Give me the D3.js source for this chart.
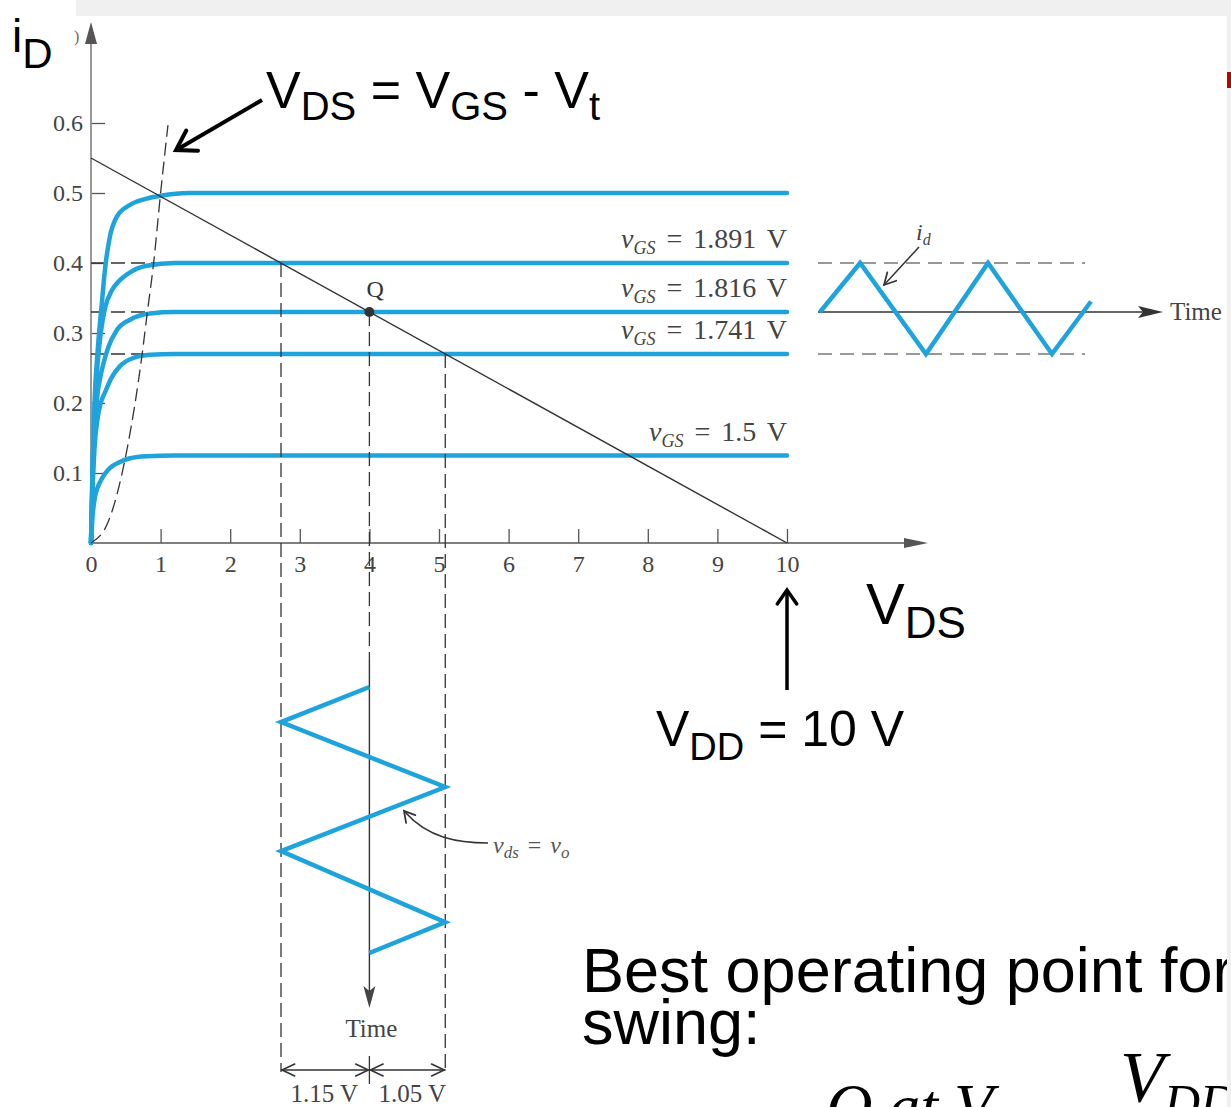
<!DOCTYPE html>
<html><head><meta charset="utf-8">
<script src="https://cdn.jsdelivr.net/npm/d3@7"></script>
<style>body{margin:0;background:#fff;} svg{display:block} text{white-space:pre}</style>
</head><body>
<svg id="c" width="1231" height="1107"></svg>
<script>
// ---------------- data ----------------
const xTicks = [0,1,2,3,4,5,6,7,8,9,10];
const yTicks = [0.1,0.2,0.3,0.4,0.5,0.6];
const satLevels = [0.5,0.4,0.33,0.27,0.125];
const vgsLabels = [null,"1.891","1.816","1.741","1.5"];
const curve050 = [[0,0],[0.02,0.1],[0.05,0.2],[0.1,0.28],[0.16,0.347],[0.2,0.39],[0.27,0.437],[0.37,0.466],[0.56,0.483],[0.8,0.492],[1.0,0.496],[1.4,0.5],[10,0.5]];
const curve040 = [[0,0],[0.02,0.09],[0.05,0.18],[0.09,0.25],[0.14,0.3],[0.2,0.335],[0.3,0.361],[0.4,0.374],[0.55,0.386],[0.8,0.396],[1.2,0.4],[10,0.4]];
const curve033 = [[0,0],[0.02,0.08],[0.05,0.16],[0.09,0.21],[0.14,0.24],[0.18,0.257],[0.25,0.28],[0.37,0.304],[0.56,0.319],[0.85,0.328],[1.2,0.33],[10,0.33]];
const curve027 = [[0,0],[0.02,0.07],[0.05,0.135],[0.09,0.175],[0.14,0.2],[0.2,0.215],[0.3,0.237],[0.42,0.253],[0.6,0.264],[0.85,0.269],[1.2,0.27],[10,0.27]];
const curve0125 = [[0,0],[0.02,0.035],[0.057,0.066],[0.09,0.078],[0.13,0.087],[0.2,0.099],[0.27,0.107],[0.4,0.115],[0.56,0.121],[0.8,0.124],[1.2,0.125],[10,0.125]];
const boundary = [[0,0],[0.25,0.031],[0.52,0.135],[0.735,0.27],[0.81,0.33],[0.9,0.4],[1.0,0.5],[1.106,0.597]];
const loadLine = [[0,0.55],[10,0]];
const qPoint = [4,0.33];
const swingI = [0.4,0.33,0.27];
const swingV = [2.73,4,5.09];
const vdsWaveT = [0,0.132,0.376,0.617,0.884,1.0];
const vdsWaveV = [4,2.73,5.09,2.73,5.09,4];
const idWaveT = [0,0.148,0.391,0.620,0.856,1.0];
const idWaveI = [0.33,0.4,0.27,0.4,0.27,0.345];
const swingLabels = ["1.15 V","1.05 V"];

// ---------------- setup ----------------
const svg = d3.select("#c");
const BLUE = "#1fa3dd", INK = "#333", SERIF = "Liberation Serif", SANS = "Liberation Sans";
const x = d3.scaleLinear().domain([0,10]).range([91,787]);
const y = d3.scaleLinear().domain([0,0.6]).range([543,123]);
const tV = d3.scaleLinear().domain([0,1]).range([687,953]);   // time (down) for v_ds
const tI = d3.scaleLinear().domain([0,1]).range([820,1091]);  // time (right) for i_d

function chevron(g, tx, ty, fx, fy, len, ang, color, w){
  const dx = fx-tx, dy = fy-ty, L = Math.hypot(dx,dy), ux = dx/L, uy = dy/L;
  const a = ang*Math.PI/180;
  const r = (c,s)=>[tx + len*(ux*c - uy*s), ty + len*(uy*c + ux*s)];
  const p1 = r(Math.cos(a),Math.sin(a)), p2 = r(Math.cos(-a),Math.sin(-a));
  g.append("path").attr("d",`M${p1[0]},${p1[1]}L${tx},${ty}L${p2[0]},${p2[1]}`)
    .attr("fill","none").attr("stroke",color).attr("stroke-width",w).attr("stroke-linejoin","miter").attr("stroke-linecap","round");
}
function rich(g, px, py, parts, attrs){
  const t = g.append("text").attr("x",px).attr("y",py);
  Object.entries(attrs).forEach(([k,v])=>t.attr(k,v));
  let cur = 0;
  parts.forEach(p=>{
    const ts = t.append("tspan").text(p.t);
    const shift = (p.sub||0) - cur;
    if (shift) ts.attr("dy", shift);
    cur = p.sub||0;
    if (p.size) ts.attr("font-size", p.size);
    if (p.italic) ts.attr("font-style","italic");
  });
  return t;
}

const g = svg.append("g");

// axes (ticks inward)
const yAxis = g.append("g").attr("transform",`translate(${x(0)},0)`)
  .call(d3.axisLeft(y).tickValues(yTicks).tickSize(-14).tickPadding(8).tickFormat(d3.format(".1f")));
const xAxis = g.append("g").attr("transform",`translate(0,${y(0)})`)
  .call(d3.axisBottom(x).tickValues(xTicks).tickSize(-14).tickPadding(12).tickFormat(d3.format("d")));
[yAxis,xAxis].forEach(a=>{
  a.select(".domain").remove();
  a.selectAll(".tick line").attr("stroke","#555").attr("stroke-width",1.3);
  a.selectAll(".tick text").attr("font-family",SERIF).attr("font-size",24).attr("fill","#444");
});
xAxis.selectAll(".tick").filter(d=>d===0).select("line").remove();
// axis lines with arrowheads
g.append("line").attr("x1",x(0)).attr("x2",x(0)).attr("y1",y(0)).attr("y2",40).attr("stroke","#999").attr("stroke-width",2);
g.append("path").attr("d",`M${x(0)},22L${x(0)-6},44L${x(0)+6},44Z`).attr("fill","#555");
g.append("line").attr("x1",x(0)).attr("x2",910).attr("y1",y(0)).attr("y2",y(0)).attr("stroke","#555").attr("stroke-width",1.5);
g.append("path").attr("d",`M928,${y(0)}L904,${y(0)-5}L904,${y(0)+5}Z`).attr("fill","#555");

const dash = "14,6";
// horizontal dashed guides at swing levels (under the curves)
swingI.forEach((iv,k)=>{
  g.append("line").attr("x1",x(0)).attr("x2",x(swingV[k])).attr("y1",y(iv)).attr("y2",y(iv))
    .attr("stroke",INK).attr("stroke-width",1.3).attr("stroke-dasharray",dash);
});

// characteristic curves
const line = d3.line().x(d=>x(d[0])).y(d=>y(d[1])).curve(d3.curveMonotoneX);
[curve050,curve040,curve033,curve027,curve0125].forEach(c=>{
  g.append("path").attr("d",line(c)).attr("fill","none").attr("stroke",BLUE).attr("stroke-width",4.5).attr("stroke-linecap","round");
});

// v_GS labels
satLevels.forEach((s,k)=>{
  if(!vgsLabels[k]) return;
  rich(g, x(10), y(s)-15, [
    {t:"v",italic:true},{t:"GS",italic:true,size:18,sub:6},{t:" = "+vgsLabels[k]+" V",sub:0}
  ], {"font-family":SERIF,"font-size":28,"fill":"#444","text-anchor":"end","word-spacing":4});
});

// boundary dashed curve v_DS = v_GS - V_t
g.append("path").attr("d",line(boundary)).attr("fill","none").attr("stroke",INK).attr("stroke-width",1.3).attr("stroke-dasharray","13,6");

// load line
g.append("path").attr("d",d3.line().x(d=>x(d[0])).y(d=>y(d[1]))(loadLine)).attr("stroke",INK).attr("stroke-width",1.4).attr("fill","none");

// vertical dashed projection lines
[[swingV[0],swingI[0]],[swingV[2],swingI[2]]].forEach(([v,i])=>{
  g.append("line").attr("x1",x(v)).attr("x2",x(v)).attr("y1",y(i)).attr("y2",1072)
    .attr("stroke",INK).attr("stroke-width",1.3).attr("stroke-dasharray",dash);
});
g.append("line").attr("x1",x(qPoint[0])).attr("x2",x(qPoint[0])).attr("y1",y(qPoint[1])).attr("y2",660)
  .attr("stroke",INK).attr("stroke-width",1.3).attr("stroke-dasharray",dash);
// time axis (down)
g.append("line").attr("x1",x(qPoint[0])).attr("x2",x(qPoint[0])).attr("y1",660).attr("y2",992).attr("stroke",INK).attr("stroke-width",1.4);
g.append("path").attr("d",`M${x(4)},1008L${x(4)-6},986L${x(4)},991L${x(4)+6},986Z`).attr("fill","#444");
g.append("text").attr("x",x(4)+2).attr("y",1037).attr("text-anchor","middle").attr("font-family",SERIF).attr("font-size",25).attr("fill","#444").text("Time");

// Q point
g.append("circle").attr("cx",x(qPoint[0])).attr("cy",y(qPoint[1])).attr("r",5).attr("fill","#333");
g.append("text").attr("x",x(qPoint[0])-3).attr("y",y(qPoint[1])-15).attr("font-family",SERIF).attr("font-size",24).attr("fill","#333").text("Q");

// v_ds waveform
const vWave = vdsWaveT.map((t,k)=>[x(vdsWaveV[k]), tV(t)]);
g.append("path").attr("d",d3.line()(vWave)).attr("fill","none").attr("stroke",BLUE).attr("stroke-width",4.5).attr("stroke-linejoin","miter");

// v_ds = v_o label + curved arrow
rich(g, 493, 853, [
  {t:"v",italic:true},{t:"ds",italic:true,size:17,sub:5},{t:" = ",sub:0},{t:"v",italic:true},{t:"o",italic:true,size:17,sub:5}
], {"font-family":SERIF,"font-size":24,"fill":"#555","word-spacing":3});
g.append("path").attr("d","M488,843C458,843,428,838,405,812").attr("fill","none").attr("stroke",INK).attr("stroke-width",1.6);
chevron(g,404,811,420,830,12,30,INK,1.8);

// swing dimension arrows
const dimY = 1070;
g.append("line").attr("x1",x(swingV[0])).attr("x2",x(4)-1).attr("y1",dimY).attr("y2",dimY).attr("stroke",INK).attr("stroke-width",1.4);
g.append("line").attr("x1",x(4)+1).attr("x2",x(swingV[2])).attr("y1",dimY).attr("y2",dimY).attr("stroke",INK).attr("stroke-width",1.4);
chevron(g,x(swingV[0])+1,dimY,x(4),dimY,14,25,INK,1.6);
chevron(g,x(4)-1,dimY,x(swingV[0]),dimY,14,25,INK,1.6);
chevron(g,x(4)+1,dimY,x(swingV[2]),dimY,14,25,INK,1.6);
chevron(g,x(swingV[2])-1,dimY,x(4),dimY,14,25,INK,1.6);
g.append("line").attr("x1",x(4)).attr("x2",x(4)).attr("y1",1056).attr("y2",1084).attr("stroke",INK).attr("stroke-width",1.3);
g.append("text").attr("x",(x(swingV[0])+x(4))/2-1).attr("y",1102).attr("text-anchor","middle").attr("font-family",SERIF).attr("font-size",25).attr("fill","#444").text(swingLabels[0]);
g.append("text").attr("x",(x(4)+x(swingV[2]))/2+5).attr("y",1102).attr("text-anchor","middle").attr("font-family",SERIF).attr("font-size",25).attr("fill","#444").text(swingLabels[1]);

// i_d waveform (right)
[swingI[0],swingI[2]].forEach(iv=>{
  g.append("line").attr("x1",818).attr("x2",1085).attr("y1",y(iv)).attr("y2",y(iv)).attr("stroke","#777").attr("stroke-width",1.5).attr("stroke-dasharray","14,8");
});
g.append("line").attr("x1",818).attr("x2",1145).attr("y1",y(0.33)).attr("y2",y(0.33)).attr("stroke",INK).attr("stroke-width",1.4);
g.append("path").attr("d",`M1163,${y(0.33)}L1138,${y(0.33)-6}L1143,${y(0.33)}L1138,${y(0.33)+6}Z`).attr("fill","#333");
g.append("text").attr("x",1170).attr("y",y(0.33)+8).attr("font-family",SERIF).attr("font-size",25).attr("fill","#444").text("Time");
const iWave = idWaveT.map((t,k)=>[tI(t), y(idWaveI[k])]);
g.append("path").attr("d",d3.line()(iWave)).attr("fill","none").attr("stroke",BLUE).attr("stroke-width",4.5).attr("stroke-linejoin","miter");
rich(g, 916, 240, [{t:"i",italic:true},{t:"d",italic:true,size:16,sub:5}], {"font-family":SERIF,"font-size":24,"fill":"#444"});
g.append("line").attr("x1",919).attr("y1",247).attr("x2",884).attr("y2",285).attr("stroke",INK).attr("stroke-width",1.5);
chevron(g,884,285,919,247,13,28,INK,1.7);

// ---------------- slide annotations ----------------
const s = svg.append("g").attr("font-family",SANS).attr("fill","#000");
rich(s, 12, 52, [{t:"i"},{t:"D",size:42,sub:16}], {"font-size":46});
s.append("text").attr("x",74).attr("y",42).attr("font-family",SERIF).attr("font-size",16).attr("fill","#666").text(")");
rich(s, 266, 108, [
  {t:"V"},{t:"DS",size:40,sub:12},{t:" = V",sub:0},{t:"GS",size:40,sub:12},{t:" - V",sub:0},{t:"t",size:40,sub:12}
], {"font-size":52});
s.append("line").attr("x1",262).attr("y1",100).attr("x2",178).attr("y2",149).attr("stroke","#000").attr("stroke-width",4);
chevron(s,176,150,262,100,22,32,"#000",4);

rich(s, 866, 624, [{t:"V"},{t:"DS",size:44,sub:14}], {"font-size":58});
s.append("line").attr("x1",x(10)).attr("x2",x(10)).attr("y1",690).attr("y2",592).attr("stroke","#000").attr("stroke-width",3.5);
chevron(s,x(10),590,x(10),690,17,35,"#000",3.5);
rich(s, 656, 746, [{t:"V"},{t:"DD",size:38,sub:14},{t:" = 10 V",sub:0}], {"font-size":50});

s.append("text").attr("x",582).attr("y",992).attr("font-size",63).text("Best operating point for");
s.append("text").attr("x",582).attr("y",1044).attr("font-size",63).text("swing:");
rich(s, 826, 1128, [{t:"Q at V",italic:true}], {"font-family":SERIF,"font-size":64});
rich(s, 1120, 1101, [{t:"V",italic:true},{t:"DD",italic:true,size:50,sub:18}], {"font-family":SERIF,"font-size":72});

// slide frame (drawn last: it covers the cut text at the right edge)
svg.append("rect").attr("x",76).attr("y",0).attr("width",1155).attr("height",16).attr("fill","#f0f0f0");
svg.append("rect").attr("x",1227).attr("y",0).attr("width",4).attr("height",1107).attr("fill","#f0f0f0");
svg.append("rect").attr("x",1227).attr("y",72).attr("width",4).attr("height",16).attr("fill","#c00000");
</script>
</body></html>
